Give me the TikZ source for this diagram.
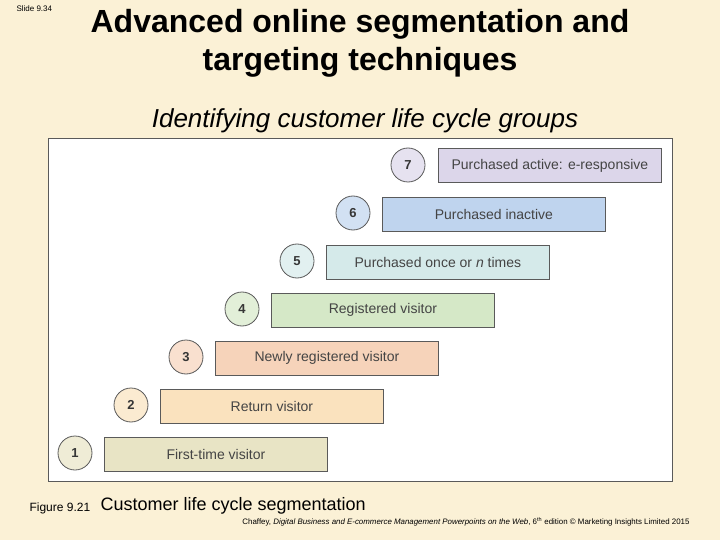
\documentclass[tikz,border=0pt]{standalone}
\usepackage{fontspec}
\setmainfont{Liberation Sans}
\definecolor{bg}{HTML}{FBF1D6}
\definecolor{txt}{HTML}{444444}
\definecolor{edge}{HTML}{5A5A5A}
\definecolor{c7}{HTML}{DCD6EA}
\definecolor{c6}{HTML}{BFD4EE}
\definecolor{c5}{HTML}{D5EAEA}
\definecolor{c4}{HTML}{D5E8C7}
\definecolor{c3}{HTML}{F6D3BA}
\definecolor{c2}{HTML}{FAE2BE}
\definecolor{c1}{HTML}{E8E4C5}
\tikzset{
  stagebox/.style={draw=edge, line width=0.8pt, minimum width=223pt, minimum height=34pt, inner sep=0pt,
    font=\fontsize{14}{16}\selectfont, text=txt},
  stagenum/.style={circle, draw=edge, line width=0.8pt, minimum size=34pt, inner sep=0pt,
    font=\bfseries\fontsize{13}{15}\selectfont, text=txt!80!black},
}
\begin{document}
\begin{tikzpicture}[x=1pt,y=-1pt]
\fill[bg] (0,0) rectangle (720,540);
\useasboundingbox (0,0) rectangle (720,540);
\node[anchor=west, font=\fontsize{8}{9}\selectfont] (slide) at (13,9) {Slide 9.34};
\node[font=\bfseries\fontsize{32}{38}\selectfont, align=center] (title) at (360,43) {Advanced online segmentation and\\targeting techniques};
\node[font=\itshape\fontsize{26}{30}\selectfont] (sub) at (365,121) {Identifying customer life cycle groups};
\draw[fill=white, draw=edge, line width=1pt] (48,139) rectangle (672,481);
% stages
\node[stagebox, fill=c7, anchor=west] (b7) at (438,165.5) {Purchased active: e-responsive};
\node[stagenum, fill=c7!70!white] (n7) at (408,165) {7};
\node[stagebox, fill=c6, anchor=west] (b6) at (382,214) {Purchased inactive};
\node[stagenum, fill=c6!70!white] (n6) at (353,213) {6};
\node[stagebox, fill=c5, anchor=west] (b5) at (326,262) {Purchased once or \textit{n} times};
\node[stagenum, fill=c5!70!white] (n5) at (297,261) {5};
\node[stagebox, fill=c4, anchor=west] (b4) at (271,310) {Registered visitor};
\node[stagenum, fill=c4!70!white] (n4) at (242,309) {4};
\node[stagebox, fill=c3, anchor=west] (b3) at (215,358) {Newly registered visitor};
\node[stagenum, fill=c3!70!white] (n3) at (186,357) {3};
\node[stagebox, fill=c2, anchor=west] (b2) at (160,406) {Return visitor};
\node[stagenum, fill=c2!70!white] (n2) at (131,405) {2};
\node[stagebox, fill=c1, anchor=west] (b1) at (104,454) {First-time visitor};
\node[stagenum, fill=c1!70!white] (n1) at (75,453) {1};
% captions
\node[anchor=west, font=\fontsize{12}{14}\selectfont] (fig) at (26,508) {Figure 9.21};
\node[anchor=west, font=\fontsize{18}{22}\selectfont] (cap) at (97,506) {Customer life cycle segmentation};
\node[anchor=east, font=\fontsize{7.9}{9}\selectfont] (cite) at (693,522) {Chaffey, \textit{Digital Business and E-commerce Management Powerpoints on the Web}, 6\textsuperscript{th} edition \copyright\ Marketing Insights Limited 2015};
\end{tikzpicture}
\end{document}
